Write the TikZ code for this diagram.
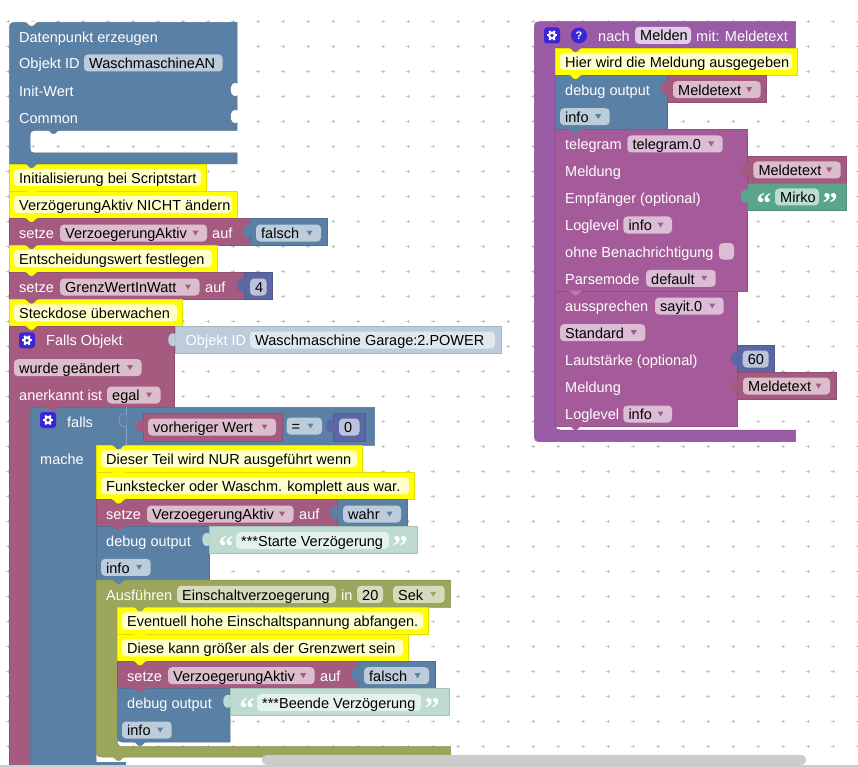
\documentclass[tikz,border=0pt]{standalone}
\usepackage{fontspec}
\setmainfont{Liberation Sans}
\newfontfamily\quotefont{Liberation Serif}
\definecolor{cPink}{HTML}{A55B80}\definecolor{fPink}{HTML}{DBBDCC}
\definecolor{cBlue}{HTML}{5B80A5}\definecolor{fBlue}{HTML}{BDCCDB}
\definecolor{cProc}{HTML}{995BA5}\definecolor{fProc}{HTML}{E0CEE4}
\definecolor{cTele}{HTML}{A55B99}\definecolor{fTele}{HTML}{DBBDD6}
\definecolor{cOlive}{HTML}{9BA55B}\definecolor{fOlive}{HTML}{D7DBBD}
\definecolor{cMath}{HTML}{5B67A5}\definecolor{fMath}{HTML}{BDC2DB}
\definecolor{cGreen}{HTML}{5BA58C}\definecolor{fGreen}{HTML}{BDDBD1}
\definecolor{cFade}{HTML}{BDDBD1}\definecolor{fFade}{HTML}{E5F1ED}
\definecolor{cFadeB}{HTML}{BDCCDB}\definecolor{fFadeB}{HTML}{E0E7EE}
\definecolor{cYel}{HTML}{FFFF00}\definecolor{fYel}{HTML}{FFFFCC}
\definecolor{cIcon}{HTML}{3A26D6}\definecolor{cDot}{HTML}{C4C4C4}
\definecolor{cBar}{HTML}{CCCCCC}
\newcounter{nn}
\newcommand\FS{\fontsize{14.5}{16}\selectfont}
\tikzset{
  lbl/.style={inner sep=0pt,anchor=base west,text=white,font=\FS},
  val/.style={inner sep=0pt,anchor=base west,text=black,font=\FS},
  blockedge/.style={line width=.5pt}
}
% block: x1,y1,x2,y2,colour
\newcommand\Bk[5]{\fill[#5,draw=#5!88!black,blockedge] (#1,#2) rectangle (#3,#4);}
% downward tab: x,y,colour
\newcommand\Tb[3]{\fill[#3] ({#1},{#2-.6}) -- (#1,#2) .. controls ({#1+3},#2) and ({#1+3},{#2+4}) .. ({#1+6.5},{#2+4}) .. controls ({#1+10},{#2+4}) and ({#1+10},#2) .. ({#1+13},#2) -- ({#1+13},{#2-.6}) -- cycle;}
% left puzzle tab: x,y-top-of-block,colour
\newcommand\Pt[3]{\fill[#3] ({#1+.6},{#2+7}) -- (#1,{#2+7}) .. controls ({#1-9},{#2+3}) and ({#1-9},{#2+23}) .. (#1,{#2+19}) -- ({#1+.6},{#2+19}) -- cycle;}
\newcommand\Lb[3]{\stepcounter{nn}\node[lbl] (n\thenn) at (#1,{#2+5.7}) {#3};}
\newcommand\Fd[5]{\stepcounter{nn}\fill[#4,rounded corners=4pt] (#1,{#3-8.5}) rectangle (#2,{#3+8.5});\node[val] (n\thenn) at ({#1+5},{#3+5.7}) {#5};}
\newcommand\Fa[6]{\Fd{#1}{#2}{#3}{#4}{#6}\fill[#5] ({#2-14.5},{#3-2.5}) -- ({#2-8.5},{#3-2.5}) -- ({#2-11.5},{#3+2.5}) -- cycle;}
\newcommand\Cm[7]{\Bk{#1}{#2}{#3}{#4}{cYel}\Fd{#5}{#6}{(#2+#4)/2}{fYel}{#7}}
\newcommand\Gear[2]{\fill[cIcon,rounded corners=3pt] ({#1-8},{#2-8}) rectangle ({#1+8},{#2+8});
  \foreach \a in {0,60,...,300}{\draw[white,line width=2pt] (#1,#2) -- ++(\a:5.2);}
  \fill[white] (#1,#2) circle (4);\fill[cIcon] (#1,#2) circle (1.8);}
\newcommand\Qo[3]{\stepcounter{nn}\node[inner sep=0pt,text=#3,font=\quotefont\bfseries\fontsize{30}{30}\selectfont] (n\thenn) at (#1,{#2+7}) {“};}
\newcommand\Qc[3]{\stepcounter{nn}\node[inner sep=0pt,text=#3,font=\quotefont\bfseries\fontsize{30}{30}\selectfont] (n\thenn) at (#1,{#2+7}) {”};}
\begin{document}
\begin{tikzpicture}[x=1pt,y=-1pt]
\useasboundingbox (0,0) rectangle (858,767);
\fill[white] (0,0) rectangle (858,767);
% grid of dots
\foreach \x in {8,33,...,858}{\foreach \y in {21.7,46.7,...,767}{
  \draw[cDot,line width=.9pt] ({\x-1.6},\y) -- ({\x+1.6},\y) ({\x},{\y-1.6}) -- ({\x},{\y+1.6});}}

% ---------- left stack ----------
% Datenpunkt erzeugen
\fill[cBlue,draw=cBlue!88!black,blockedge]
  (9.5,164) -- (9.5,27.5) .. controls (9.5,24) and (11,22.5) .. (14.5,22.5) -- (237,22.5) -- (237,130.5) -- (34,130.5) .. controls (31.5,130.5) and (30,132) .. (30,135) -- (30,148.5) .. controls (30,151.5) and (31.5,153) .. (34,153) -- (237,153) -- (237,164) -- cycle;
\Tb{25}{22}{white}
\Tb{47}{130}{cBlue}
\Pt{237.5}{76.5}{white}
\Pt{237.5}{103.5}{white}
\Lb{19}{37}{Datenpunkt erzeugen}
\Lb{19}{63}{Objekt ID}
\Fd{84}{222.7}{63}{fBlue}{WaschmaschineAN}
\Lb{19}{91}{Init-Wert}
\Lb{19}{118}{Common}
% comments and setze
\Cm{9.5}{164}{206.5}{191}{14}{201}{Initialisierung bei Scriptstart}
\Tb{25}{164}{cBlue}
\Cm{9.5}{191}{237}{218}{14}{232}{VerzögerungAktiv NICHT ändern}
\Tb{25}{191}{cYel}
\Bk{9.5}{218}{250}{245}{cPink}
\Tb{25}{218}{cYel}
\Lb{19}{233}{setze}
\Fa{60}{207}{233}{fPink}{cPink}{VerzoegerungAktiv}
\Lb{212}{233}{auf}
\Bk{250}{218}{327}{245}{cBlue}
\Pt{250}{218}{cBlue}
\Fa{256}{321}{233}{fBlue}{cBlue}{falsch}
\Cm{9.5}{245}{217.5}{272}{14}{212}{Entscheidungswert festlegen}
\Tb{25}{245}{cPink}
\Bk{9.5}{272}{244}{299.6}{cPink}
\Tb{25}{272}{cYel}
\Lb{19}{287}{setze}
\Fa{60}{199.5}{287}{fPink}{cPink}{GrenzWertInWatt}
\Lb{205}{287}{auf}
\Bk{244}{272}{272.5}{299.6}{cMath}
\Pt{244}{272}{cMath}
\Fd{250}{266.7}{287}{fMath}{4}
\Cm{9.5}{299.6}{182.5}{326}{14}{177}{Steckdose überwachen}
\Tb{25}{299.6}{cPink}
% Falls Objekt
\fill[cPink,draw=cPink!88!black,blockedge] (9.5,767) -- (9.5,326) -- (174.7,326) -- (174.7,407.3) -- (30,407.3) -- (30,767) -- cycle;
\Tb{25}{326}{cYel}
\Gear{27}{340.3}
\Lb{46}{340}{Falls Objekt}
\Fa{14}{141.5}{367.7}{fPink}{cPink}{wurde geändert}
\Lb{19}{395}{anerkannt ist}
\Fa{107}{160.5}{395}{fPink}{cPink}{egal}
\Bk{175}{326.7}{501}{353}{cFadeB}
\Pt{175}{326.7}{cFadeB}
\Lb{185.5}{340}{Objekt ID}
\Fd{250}{495}{340}{fFadeB}{Waschmaschine Garage:2.POWER}
% falls
\fill[cBlue,draw=cBlue!88!black,blockedge] (30,767) -- (30,411.3) .. controls (30,408.5) and (31.5,407.3) .. (34,407.3) -- (374.5,407.3) -- (374.5,445.3) -- (96,445.3) -- (96,767) -- cycle;
\Tb{46}{407.3}{cPink}
\draw[cBlue!70!white,line width=.5pt] (126,407.3) -- (126,445.3);
\Pt{126}{407.3}{cBlue}
\draw[cBlue!70!white,line width=.5pt] (126,414.3) .. controls (117,410.3) and (117,430.3) .. (126,426.3);
\Gear{48}{420}
\Lb{67}{422}{falls}
\Lb{40}{459}{mache}
\Bk{143}{413}{282}{441}{cPink}
\Pt{143}{413}{cPink}
\Fa{148}{276}{427}{fPink}{cPink}{vorheriger Wert}
\Fa{286.5}{322}{426}{fBlue}{cBlue}{=}
\Bk{333}{413}{365}{441}{cMath}
\Pt{333}{413}{cMath}
\Fd{339}{359.5}{427}{fMath}{0}
% comments inside falls
\Cm{96}{445.3}{362.7}{472.3}{101}{357}{Dieser Teil wird NUR ausgeführt wenn}
\Tb{112}{445.3}{cBlue}
\Cm{96}{472.3}{414.7}{499.6}{101}{409}{Funkstecker oder Waschm. komplett aus war.}
\Tb{112}{472.3}{cYel}
\Bk{96}{499.6}{337}{526.5}{cPink}
\Tb{112}{499.6}{cYel}
\Lb{106}{514}{setze}
\Fa{147}{293.5}{514}{fPink}{cPink}{VerzoegerungAktiv}
\Lb{299}{514}{auf}
\Bk{337}{499.6}{407.3}{526.5}{cBlue}
\Pt{337}{499.6}{cBlue}
\Fa{343}{401}{514}{fBlue}{cBlue}{wahr}
\Bk{96}{526.5}{209}{580}{cBlue}
\Tb{112}{526.5}{cPink}
\Lb{106}{541}{debug output}
\Fa{101}{150.7}{567.3}{fBlue}{cBlue}{info}
\Bk{209}{526.5}{417}{553.3}{cFade}
\Pt{209}{526.5}{cFade}
\Qo{226}{540}{white}
\Fd{236}{389}{540.5}{fFade}{***Starte Verzögerung}
\Qc{400}{540}{white}
% Ausführen
\fill[cOlive,draw=cOlive!88!black,blockedge] (96,580) -- (450.7,580) -- (450.7,607.3) -- (117.5,607.3) -- (117.5,742.5) .. controls (117.5,745) and (119,746.7) .. (122,746.7) -- (450.7,746.7) -- (450.7,757) -- (102,757) .. controls (98,757) and (96,755) .. (96,751) -- cycle;
\Tb{112}{580}{cBlue}
\Tb{112}{757}{cOlive}
\Lb{106}{594.5}{Ausführen}
\Fd{177}{336}{594.3}{fOlive}{Einschaltverzoegerung}
\Lb{341}{594.5}{in}
\Fd{357}{383}{594.3}{fOlive}{20}
\Fa{393}{444.7}{594.3}{fOlive}{cOlive}{Sek}
\Cm{117.5}{607.3}{428.7}{634.3}{122}{423}{Eventuell hohe Einschaltspannung abfangen.}
\Tb{133.5}{607.3}{cOlive}
\Cm{117.5}{634.3}{408.7}{661.3}{122}{403}{Diese kann größer als der Grenzwert sein}
\Tb{133.5}{634.3}{cYel}
\Bk{117.5}{661.3}{358.3}{688.3}{cPink}
\Tb{133.5}{661.3}{cYel}
\Lb{127}{675.7}{setze}
\Fa{168}{314.7}{675.7}{fPink}{cPink}{VerzoegerungAktiv}
\Lb{320}{675.7}{auf}
\Bk{358.3}{661.3}{435.3}{688.3}{cBlue}
\Pt{358.3}{661.3}{cBlue}
\Fa{364}{429}{675.7}{fBlue}{cBlue}{falsch}
\fill[cBlue,draw=cBlue!88!black,blockedge] (117.5,688.3) -- (230,688.3) -- (230,742) -- (122,742) .. controls (119,742) and (117.5,740.5) .. (117.5,738) -- cycle;
\Tb{133.5}{688.3}{cPink}
\Tb{133.5}{742}{cBlue}
\Lb{127}{703}{debug output}
\Fa{122}{171.7}{730}{fBlue}{cBlue}{info}
\Bk{230}{688.3}{449}{715}{cFade}
\Pt{230}{688.3}{cFade}
\Qo{247}{702}{white}
\Fd{257}{421}{702.7}{fFade}{***Beende Verzögerung}
\Qc{432}{702}{white}
% bottom of falls and scrollbar
\fill[cBlue] (96,762) rectangle (126,765);
\fill[cBar,rounded corners=4.5pt] (262,755) rectangle (806,765);
\fill[cBar] (0,765) rectangle (858,767);

% ---------- right stack ----------
\fill[cProc,draw=cProc!88!black,blockedge] (795.7,48) -- (555.3,48) -- (555.3,425.5) .. controls (555.3,428.5) and (557,430) .. (560,430) -- (795.7,430) -- (795.7,441.7) -- (539,441.7) .. controls (536,441.7) and (534.3,440) .. (534.3,437) -- (534.3,26) .. controls (534.3,23) and (536,21.7) .. (539,21.7) -- (795.7,21.7) -- cycle;
\Gear{552}{35.5}
\fill[cIcon] (579,35.5) circle (8);
\stepcounter{nn}\node[inner sep=0pt,text=white,font=\bfseries\fontsize{11}{11}\selectfont] (n\thenn) at (579,35.5) {?};
\Lb{598}{36}{nach}
\Fd{635}{691}{35.3}{fProc}{Melden}
\Lb{696}{36}{mit: Meldetext}
\Cm{555.3}{48}{797.7}{75}{560}{792}{Hier wird die Meldung ausgegeben}
\Tb{569}{48}{cProc}
\Bk{555.3}{75}{667.7}{129.7}{cBlue}
\Tb{569}{75}{cYel}
\Lb{565}{90}{debug output}
\Fa{560}{609.7}{116.7}{fBlue}{cBlue}{info}
\Bk{667.7}{75}{766.7}{102.3}{cPink}
\Pt{667.7}{75}{cPink}
\Fa{673}{760.7}{89.7}{fPink}{cPink}{Meldetext}
% telegram
\Bk{555.3}{129.7}{747.7}{291.3}{cTele}
\Tb{569}{129.7}{cBlue}
\Lb{565}{144}{telegram}
\Fa{627.3}{722.7}{144}{fTele}{cTele}{telegram.0}
\Lb{565}{171}{Meldung}
\Bk{747.7}{156.7}{846.7}{183.3}{cPink}
\Pt{747.7}{156.7}{cPink}
\Fa{753.3}{840.7}{170}{fPink}{cPink}{Meldetext}
\Lb{565}{198}{Empfänger (optional)}
\Bk{747.7}{183.3}{846.7}{210}{cGreen}
\Pt{747.7}{183.3}{cGreen}
\Qo{764}{197}{white}
\Fd{775}{819}{197}{fGreen}{Mirko}
\Qc{830}{197}{white}
\Lb{565}{225}{Loglevel}
\Fa{623.3}{672}{225}{fTele}{cTele}{info}
\Lb{565}{252}{ohne Benachrichtigung}
\fill[fTele,rounded corners=4pt] (719,243) rectangle (734,259.6);
\Lb{565}{279}{Parsemode}
\Fa{646}{715.7}{278.3}{fTele}{cTele}{default}
% aussprechen
\Bk{555.3}{291.3}{737.7}{426}{cTele}
\Tb{569}{291.3}{cTele!80!white}
\Tb{569}{426}{cTele}
\Lb{565}{306}{aussprechen}
\Fa{655}{723.7}{306}{fTele}{cTele}{sayit.0}
\Fa{560}{645.3}{332.7}{fTele}{cTele}{Standard}
\Lb{565}{360}{Lautstärke (optional)}
\Bk{737.7}{345.7}{774.7}{372.3}{cMath}
\Pt{737.7}{345.7}{cMath}
\Fd{742.7}{768.7}{359}{fMath}{60}
\Lb{565}{387}{Meldung}
\Bk{737.7}{372.3}{836.3}{399.3}{cPink}
\Pt{737.7}{372.3}{cPink}
\Fa{743}{830}{386}{fPink}{cPink}{Meldetext}
\Lb{565}{414}{Loglevel}
\Fa{623.3}{672}{414}{fTele}{cTele}{info}
\end{tikzpicture}
\end{document}
